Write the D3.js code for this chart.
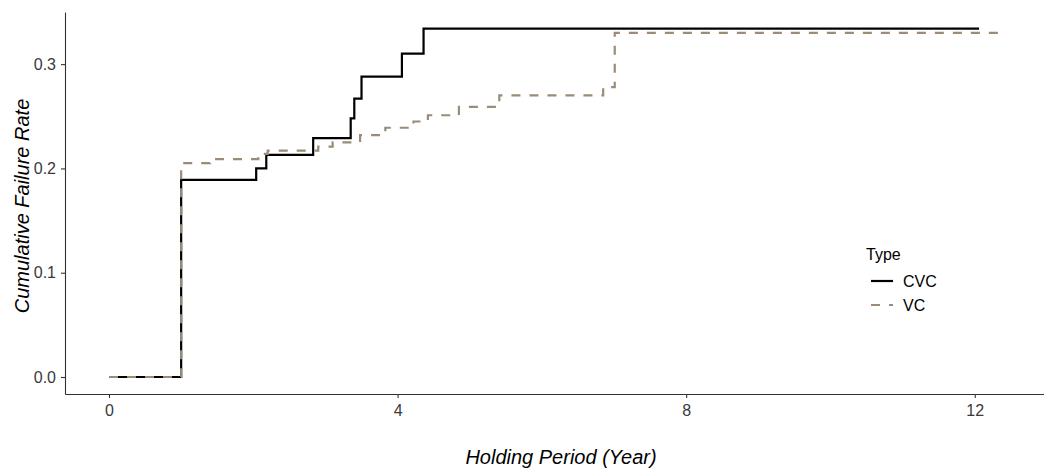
<!DOCTYPE html>
<html>

<head>
    <meta charset="UTF-8">
    <title>Cumulative Failure Rate</title>
    <script src="https://cdn.jsdelivr.net/npm/d3@7"></script>
    <style>
        body { margin: 0; background: #fff; }
        text { font-family: "Liberation Sans", Arial, sans-serif; }
    </style>
</head>

<body>
    <script>
        // step data (time in years, cumulative failure rate)
        const cvcTime = [0, 1.0, 2.04, 2.18, 2.83, 3.35, 3.40, 3.50, 4.06, 4.36, 12.06];
        const cvcRate = [0, 0.189, 0.200, 0.213, 0.229, 0.248, 0.267, 0.288, 0.310, 0.334, 0.334];

        const vcTime = [0, 1.0, 1.40, 2.07, 2.20, 2.90, 3.10, 3.48, 3.83, 4.22, 4.42, 4.85, 5.41, 6.85, 7.01, 12.42];
        const vcRate = [0, 0.205, 0.209, 0.214, 0.217, 0.221, 0.225, 0.232, 0.239, 0.245, 0.251, 0.259, 0.270, 0.278, 0.330, 0.330];

        const xTicks = [0, 4, 8, 12];
        const yTicks = [0.0, 0.1, 0.2, 0.3];

        const types = ['CVC', 'VC'];
        const colors = { CVC: '#000000', VC: '#9a8b7a' };
        const dashes = { CVC: null, VC: '9,9' };

        const width = 1044;
        const height = 473;

        const x = d3.scaleLinear().domain([-0.61, 12.96]).range([65, 1044]);
        const y = d3.scaleLinear().domain([-0.0163, 0.35]).range([394, 12]);

        const svg = d3.select('body')
            .append('svg')
            .attr('width', width)
            .attr('height', height);

        const series = [
            { type: 'CVC', pts: cvcTime.map((t, i) => [t, cvcRate[i]]) },
            { type: 'VC', pts: vcTime.map((t, i) => [t, vcRate[i]]) }
        ];

        const line = d3.line()
            .x(d => x(d[0]))
            .y(d => y(d[1]))
            .curve(d3.curveStepAfter);

        svg.append('g')
            .selectAll('path')
            .data(series)
            .join('path')
            .attr('d', d => line(d.pts))
            .attr('fill', 'none')
            .attr('stroke', d => colors[d.type])
            .attr('stroke-width', 2.2)
            .attr('stroke-dasharray', d => dashes[d.type]);

        // axes
        const xAxis = svg.append('g')
            .attr('transform', 'translate(0,394)')
            .call(d3.axisBottom(x).tickValues(xTicks).tickSizeInner(4).tickSizeOuter(0).tickPadding(7).tickFormat(d3.format('d')));

        const yAxis = svg.append('g')
            .attr('transform', 'translate(65,0)')
            .call(d3.axisLeft(y).tickValues(yTicks).tickSizeInner(4).tickSizeOuter(0).tickPadding(5).tickFormat(d3.format('.1f')));

        [xAxis, yAxis].forEach(ax => {
            ax.select('.domain').attr('stroke', '#333').attr('stroke-width', 1.1);
            ax.selectAll('.tick line').attr('stroke', '#333').attr('stroke-width', 1.1);
            ax.selectAll('.tick text')
                .attr('fill', '#3a3a3a')
                .style('font-size', '16px')
                .style('font-family', '"Liberation Sans", Arial, sans-serif');
        });

        // axis titles
        svg.append('text')
            .attr('x', 561)
            .attr('y', 464)
            .attr('text-anchor', 'middle')
            .style('font-size', '20px')
            .style('font-style', 'italic')
            .text('Holding Period (Year)');

        svg.append('text')
            .attr('transform', 'translate(29,206) rotate(-90)')
            .attr('text-anchor', 'middle')
            .style('font-size', '20px')
            .style('font-style', 'italic')
            .text('Cumulative Failure Rate');

        // legend
        const legend = svg.append('g').attr('transform', 'translate(866,0)');
        legend.append('text')
            .attr('x', 0)
            .attr('y', 260)
            .style('font-size', '16px')
            .text('Type');

        const item = legend.selectAll('g.item')
            .data(types)
            .join('g')
            .attr('class', 'item')
            .attr('transform', (d, i) => `translate(0,${281 + i * 24})`);

        item.append('line')
            .attr('x1', 5).attr('x2', 27)
            .attr('y1', 0).attr('y2', 0)
            .attr('stroke', d => colors[d])
            .attr('stroke-width', 2.2)
            .attr('stroke-dasharray', d => dashes[d]);

        item.append('text')
            .attr('x', 37)
            .attr('y', 6)
            .style('font-size', '16px')
            .text(d => d);
    </script>
</body>

</html>
